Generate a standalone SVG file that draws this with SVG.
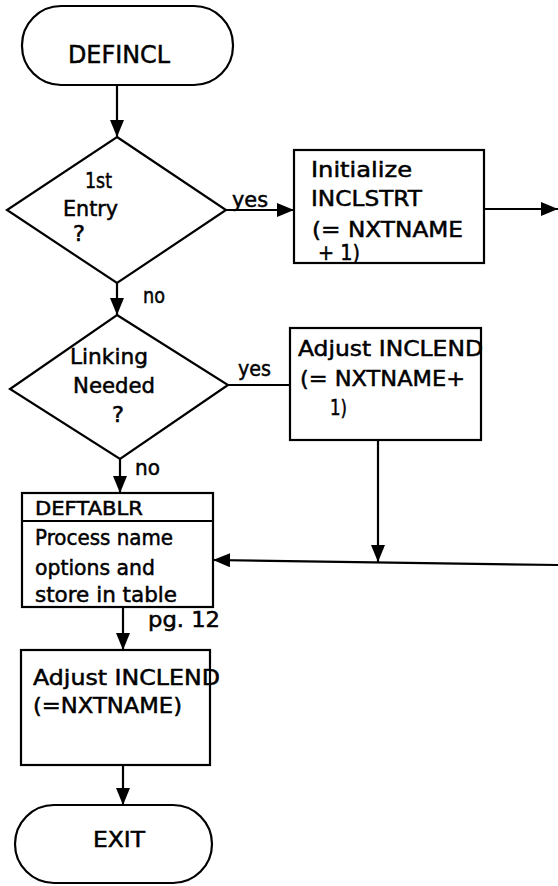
<svg xmlns="http://www.w3.org/2000/svg" width="558" height="886" viewBox="0 0 558 886">
<style>
.s{fill:#fff;stroke:#000;stroke-width:2.2}
.c{fill:none;stroke:#000;stroke-width:2.2}
text{font-family:"DejaVu Sans","Liberation Sans",sans-serif;font-size:21px;fill:#000;stroke:#000;stroke-width:0.5}
.t{font-size:25px}
.h{font-size:19px}
</style>
<defs>
<marker id="ah" markerUnits="userSpaceOnUse" markerWidth="17" markerHeight="14" refX="17" refY="7" orient="auto">
<path d="M0,0 L17,7 L0,14 z" fill="#000"/>
</marker>
</defs>
<rect width="558" height="886" fill="#fff"/>
<g id="connectors">
<line class="c" x1="117" y1="85" x2="117" y2="137" marker-end="url(#ah)"/>
<line class="c" x1="226" y1="210" x2="294" y2="210" marker-end="url(#ah)"/>
<line class="c" x1="484" y1="209" x2="558" y2="209" marker-end="url(#ah)"/>
<line class="c" x1="117" y1="283" x2="117" y2="315" marker-end="url(#ah)"/>
<line class="c" x1="228" y1="385" x2="290" y2="385"/>
<line class="c" x1="378" y1="440" x2="378" y2="562" marker-end="url(#ah)"/>
<line class="c" x1="558" y1="565" x2="213" y2="560" marker-end="url(#ah)"/>
<line class="c" x1="120" y1="459" x2="120" y2="493" marker-end="url(#ah)"/>
<line class="c" x1="123" y1="607" x2="123" y2="650" marker-end="url(#ah)"/>
<line class="c" x1="123" y1="765" x2="123" y2="805" marker-end="url(#ah)"/>
<text x="232" y="207" textLength="36" lengthAdjust="spacingAndGlyphs">yes</text>
<text x="143" y="303" textLength="22" lengthAdjust="spacingAndGlyphs">no</text>
<text x="238" y="376" textLength="33" lengthAdjust="spacingAndGlyphs">yes</text>
<text x="135" y="475" textLength="25" lengthAdjust="spacingAndGlyphs">no</text>
</g>
<g id="start">
<rect class="s" x="22" y="6" width="211" height="79" rx="39" ry="39"/>
<text class="t" x="68" y="63" textLength="102" lengthAdjust="spacingAndGlyphs">DEFINCL</text>
</g>
<g id="first-entry">
<polygon class="s" points="117,137 226,210 117,283 7,210"/>
<text x="85" y="188" textLength="27" lengthAdjust="spacingAndGlyphs">1st</text>
<text x="63" y="216" textLength="55" lengthAdjust="spacingAndGlyphs">Entry</text>
<text x="73" y="241" textLength="12" lengthAdjust="spacingAndGlyphs">?</text>
</g>
<g id="init-inclstrt">
<rect class="s" x="294" y="150" width="190" height="113"/>
<text x="311" y="177" textLength="101" lengthAdjust="spacingAndGlyphs">Initialize</text>
<text x="311" y="206" textLength="111" lengthAdjust="spacingAndGlyphs">INCLSTRT</text>
<text x="312" y="237" textLength="151" lengthAdjust="spacingAndGlyphs">(= NXTNAME</text>
<text x="318" y="260" textLength="42" lengthAdjust="spacingAndGlyphs">+ 1)</text>
</g>
<g id="linking-needed">
<polygon class="s" points="117,315 228,385 120,459 10,389"/>
<text x="70" y="364" textLength="78" lengthAdjust="spacingAndGlyphs">Linking</text>
<text x="73" y="393" textLength="82" lengthAdjust="spacingAndGlyphs">Needed</text>
<text x="112" y="422" textLength="12" lengthAdjust="spacingAndGlyphs">?</text>
</g>
<g id="adjust-inclend-1">
<rect class="s" x="290" y="328" width="191" height="112"/>
<text x="298" y="356" textLength="185" lengthAdjust="spacingAndGlyphs">Adjust INCLEND</text>
<text x="300" y="386" textLength="165" lengthAdjust="spacingAndGlyphs">(= NXTNAME+</text>
<text x="330" y="415" textLength="17" lengthAdjust="spacingAndGlyphs">1)</text>
</g>
<g id="deftablr">
<rect class="s" x="22" y="493" width="191" height="114"/>
<line class="c" x1="22" y1="521" x2="213" y2="521"/>
<text class="h" x="35" y="515" textLength="108" lengthAdjust="spacingAndGlyphs">DEFTABLR</text>
<text x="35" y="545" textLength="138" lengthAdjust="spacingAndGlyphs">Process name</text>
<text x="35" y="575" textLength="120" lengthAdjust="spacingAndGlyphs">options and</text>
<text x="35" y="602" textLength="142" lengthAdjust="spacingAndGlyphs">store in table</text>
<text x="148" y="627" textLength="72" lengthAdjust="spacingAndGlyphs">pg. 12</text>
</g>
<g id="adjust-inclend-2">
<rect class="s" x="21" y="650" width="189" height="115"/>
<text x="33" y="685" textLength="187" lengthAdjust="spacingAndGlyphs">Adjust INCLEND</text>
<text x="33" y="713" textLength="149" lengthAdjust="spacingAndGlyphs">(=NXTNAME)</text>
</g>
<g id="exit">
<rect class="s" x="15" y="805" width="197" height="78" rx="39" ry="39"/>
<text x="93" y="847" font-size="23" textLength="52" lengthAdjust="spacingAndGlyphs">EXIT</text>
</g>
</svg>
